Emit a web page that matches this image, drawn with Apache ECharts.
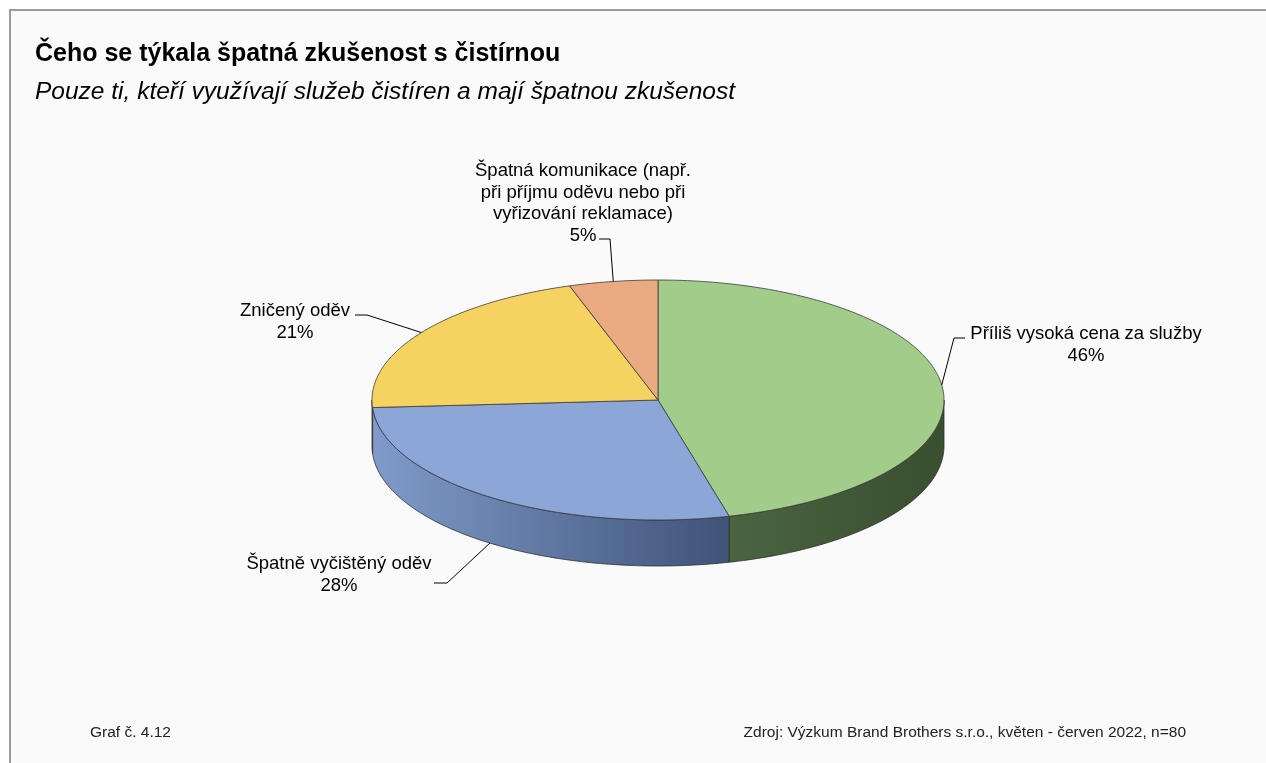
<!DOCTYPE html>
<html>
<head>
<meta charset="utf-8">
<script src="https://cdn.jsdelivr.net/npm/echarts@6/dist/echarts.min.js"></script>
<style>
  html, body { margin: 0; padding: 0; background: #ffffff; }
  #chart { width: 1266px; height: 763px; }
</style>
</head>
<body>
<div id="chart"></div>
<script>
// Categories and shares (%)
const categories = [
  'Příliš vysoká cena za služby',
  'Špatně vyčištěný oděv',
  'Zničený oděv',
  'Špatná komunikace (např.\npři příjmu oděvu nebo při\nvyřizování reklamace)'
];
const shares = [46, 28, 21, 5];

// Slice colours: top face and the shaded side wall (left -> right)
const topColors = ['#a2cc89', '#8ba6d7', '#f6d361', '#eaab80'];
const sideColors = [
  ['#4a6440', '#3a4e30'],
  ['#809bcb', '#3f5377'],
  ['#d2b04a', '#c9a640'],
  ['#c88c64', '#ba7f59']
];

// Label placement: centre of first text line, and leader start/elbow points
const labelCenters = [[1086, 334], [339, 564], [295, 311], [583, 171]];
const leaderStarts = [[965, 338], [434, 583], [355, 315], [599, 239]];
const leaderElbows = [[954, 338], [447, 583], [367, 315], [610, 239]];

// Ellipse geometry of the tilted pie
const CX = 658, CY = 400, RX = 286, RY = 120, DEPTH = 46;
const FONT = '"Liberation Sans", Arial, sans-serif';

const total = shares.reduce((a, b) => a + b, 0);
function sliceAngles(i) {
  let s = 0;
  for (let k = 0; k < i; k++) s += shares[k];
  return [s / total * 2 * Math.PI, (s + shares[i]) / total * 2 * Math.PI];
}
// angle measured clockwise from 12 o'clock
function pt(t, dy) {
  return [CX + RX * Math.sin(t), CY - RY * Math.cos(t) + (dy || 0)];
}
function arc(a0, a1, dy) {
  const n = Math.max(2, Math.ceil(Math.abs(a1 - a0) / (Math.PI / 180)));
  const out = [];
  for (let k = 0; k <= n; k++) out.push(pt(a0 + (a1 - a0) * k / n, dy));
  return out;
}

const chart = echarts.init(document.getElementById('chart'), null, { renderer: 'canvas' });

const option = {
  animation: false,
  backgroundColor: '#ffffff',
  graphic: [
    {
      type: 'rect', z: -10, silent: true,
      shape: { x: 10, y: 10, width: 1280, height: 780 },
      style: { fill: '#fafafa', stroke: '#9a9a9a', lineWidth: 2 }
    },
    {
      type: 'text', left: 35, top: 42, silent: true,
      style: { text: 'Čeho se týkala špatná zkušenost s čistírnou', font: 'bold 25px ' + FONT, fill: '#000000' }
    },
    {
      type: 'text', left: 35, top: 80, silent: true,
      style: { text: 'Pouze ti, kteří využívají služeb čistíren a mají špatnou zkušenost', font: 'italic 24.5px ' + FONT, fill: '#000000' }
    },
    {
      type: 'text', left: 90, top: 725, silent: true,
      style: { text: 'Graf č. 4.12', font: '15.5px ' + FONT, fill: '#222222' }
    },
    {
      type: 'text', right: 80, top: 725, silent: true,
      style: { text: 'Zdroj: Výzkum Brand Brothers s.r.o., květen - červen 2022, n=80', font: '15.5px ' + FONT, fill: '#222222' }
    }
  ],
  series: [
    {
      // side walls of the front half
      type: 'custom',
      coordinateSystem: 'none',
      silent: true,
      z: 2,
      data: shares,
      renderItem: function (params) {
        const i = params.dataIndex;
        const [a0, a1] = sliceAngles(i);
        const s = Math.max(a0, Math.PI / 2), e = Math.min(a1, 3 * Math.PI / 2);
        if (e <= s) return null;
        const top = arc(s, e, 0);
        const bottom = arc(e, s, DEPTH);
        const pts = top.concat(bottom);
        const xs = pts.map(p => p[0]);
        const x0 = Math.min.apply(null, xs), x1 = Math.max.apply(null, xs);
        return {
          type: 'polygon',
          shape: { points: pts },
          style: {
            fill: new echarts.graphic.LinearGradient(x0, 0, x1, 0, [
              { offset: 0, color: sideColors[i][0] },
              { offset: 1, color: sideColors[i][1] }
            ], true),
            stroke: '#2e2e2e',
            lineWidth: 0.8
          }
        };
      }
    },
    {
      // top faces
      type: 'custom',
      coordinateSystem: 'none',
      silent: true,
      z: 3,
      data: shares,
      renderItem: function (params) {
        const i = params.dataIndex;
        const [a0, a1] = sliceAngles(i);
        const pts = [[CX, CY]].concat(arc(a0, a1, 0));
        return {
          type: 'polygon',
          shape: { points: pts },
          style: { fill: topColors[i], stroke: '#3a3a3a', lineWidth: 0.8 }
        };
      }
    },
    {
      // data labels with leader lines
      type: 'custom',
      coordinateSystem: 'none',
      silent: true,
      z: 4,
      data: shares,
      renderItem: function (params) {
        const i = params.dataIndex;
        const [a0, a1] = sliceAngles(i);
        const mid = (a0 + a1) / 2;
        const front = Math.cos(mid) < 0;
        const anchor = pt(mid, front ? DEPTH : 0);
        const text = categories[i] + '\n' + shares[i] + '%';
        return {
          type: 'group',
          children: [
            {
              type: 'polyline',
              shape: { points: [leaderStarts[i], leaderElbows[i], anchor] },
              style: { stroke: '#000000', lineWidth: 1, fill: null }
            },
            {
              type: 'text',
              x: labelCenters[i][0],
              y: labelCenters[i][1] - 10.75,
              style: {
                text: text,
                font: '18.5px ' + FONT,
                lineHeight: 21.5,
                fill: '#000000',
                align: 'center',
                verticalAlign: 'top'
              }
            }
          ]
        };
      }
    }
  ]
};

chart.setOption(option);
</script>
</body>
</html>
